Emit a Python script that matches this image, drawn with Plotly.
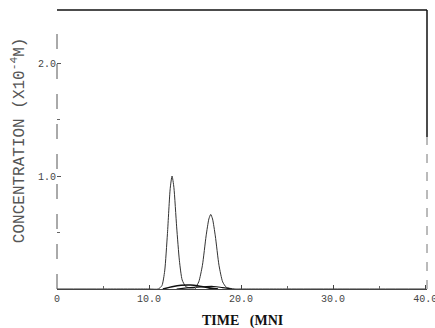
import plotly.graph_objects as go

# Main chromatogram trace (time in min, concentration x1e-4 M)
time_main = [0, 5, 10, 11.0, 11.4, 11.7, 12.0, 12.3, 12.5, 12.7, 13.0, 13.3, 13.6, 14.0, 14.5,
             15.0, 15.4, 15.8, 16.2, 16.5, 16.7, 16.9, 17.2, 17.6, 18.0, 18.4, 19.0, 19.5, 20, 25, 30, 35, 40]
conc_main = [0.0, 0.0, 0.0, 0.0, 0.03, 0.16, 0.49, 0.89, 1.0, 0.9, 0.55, 0.25, 0.08, 0.02, 0.01,
             0.012, 0.063, 0.21, 0.47, 0.62, 0.66, 0.62, 0.47, 0.21, 0.063, 0.015, 0.003, 0.0, 0.0, 0.0, 0.0, 0.0, 0.0]

# Small baseline components
time_small1 = [11.5, 12.5, 13.5, 14.5, 15.5, 16.5, 17.5]
conc_small1 = [0.0, 0.02, 0.033, 0.035, 0.025, 0.01, 0.0]
time_small2 = [13.0, 14.5, 16.0, 17.0, 18.0, 19.0]
conc_small2 = [0.0, 0.012, 0.02, 0.022, 0.012, 0.0]

x_tickvals = [0, 10, 20, 30, 40]
x_ticktext = ["0", "10.0", "20.0", "30.0", "40.0"]
y_tickvals = [1, 2]
y_ticktext = ["1.0", "2.0"]

fig = go.Figure()
fig.add_trace(go.Scatter(x=time_main, y=conc_main, mode="lines", line=dict(color="#333", width=1, shape="spline", smoothing=0.6)))
fig.add_trace(go.Scatter(x=time_small1, y=conc_small1, mode="lines", line=dict(color="#111", width=1.6, shape="spline")))
fig.add_trace(go.Scatter(x=time_small2, y=conc_small2, mode="lines", line=dict(color="#111", width=1.2, shape="spline")))

mono = "Liberation Mono, DejaVu Sans Mono, monospace"
fig.update_layout(
    width=435, height=328,
    margin=dict(l=57, r=8, t=10, b=39, autoexpand=False),
    paper_bgcolor="white", plot_bgcolor="white",
    showlegend=False,
    xaxis=dict(range=[0, 40.2], tickvals=x_tickvals, ticktext=x_ticktext, automargin=False,
               ticklabeloverflow="allow",
               ticks="inside", ticklen=4, tickcolor="#444",
               minor=dict(dtick=5, ticks="inside", ticklen=3, tickcolor="#666"),
               showline=True, linecolor="#444", linewidth=1, showgrid=False, zeroline=False,
               tickfont=dict(family=mono, size=10, color="#444")),
    yaxis=dict(range=[0, 2.47], tickvals=y_tickvals, ticktext=y_ticktext, automargin=False,
               ticks="inside", ticklen=4, tickcolor="#555",
               minor=dict(dtick=0.5, ticks="inside", ticklen=3, tickcolor="#666"),
               showline=False, showgrid=False, zeroline=False,
               tickfont=dict(family=mono, size=10, color="#444")),
    annotations=[
        dict(text="<b>TIME   (MNI</b>", xref="paper", yref="paper", x=0.5, y=0, yshift=-32,
             xanchor="center", yanchor="middle", showarrow=False,
             font=dict(family="Liberation Serif, serif", size=14, color="#111")),
        dict(text="CONCENTRATION (X10<sup>-4</sup>M)", xref="paper", yref="paper", x=0, y=0.53,
             xshift=-39, textangle=-90, xanchor="center", yanchor="middle", showarrow=False,
             font=dict(family=mono, size=16, color="#555")),
    ],
)

# Frame decorations
fig.add_shape(type="line", xref="paper", yref="paper", x0=0, x1=1, y0=1, y1=1, line=dict(color="#111", width=1.5))
fig.add_shape(type="line", xref="paper", yref="paper", x0=1, x1=1, y0=0.545, y1=1, line=dict(color="#111", width=1.5))
fig.add_shape(type="line", xref="paper", yref="paper", x0=1, x1=1, y0=0, y1=0.545, line=dict(color="#777", width=1, dash="dash"))
fig.add_shape(type="line", xref="paper", yref="paper", x0=0, x1=0, y0=0, y1=0.964, line=dict(color="#555", width=1, dash="longdash"))

fig.write_html("out.html", config={"displayModeBar": False},
               post_script="document.body.style.margin='0';document.body.style.padding='0';")
